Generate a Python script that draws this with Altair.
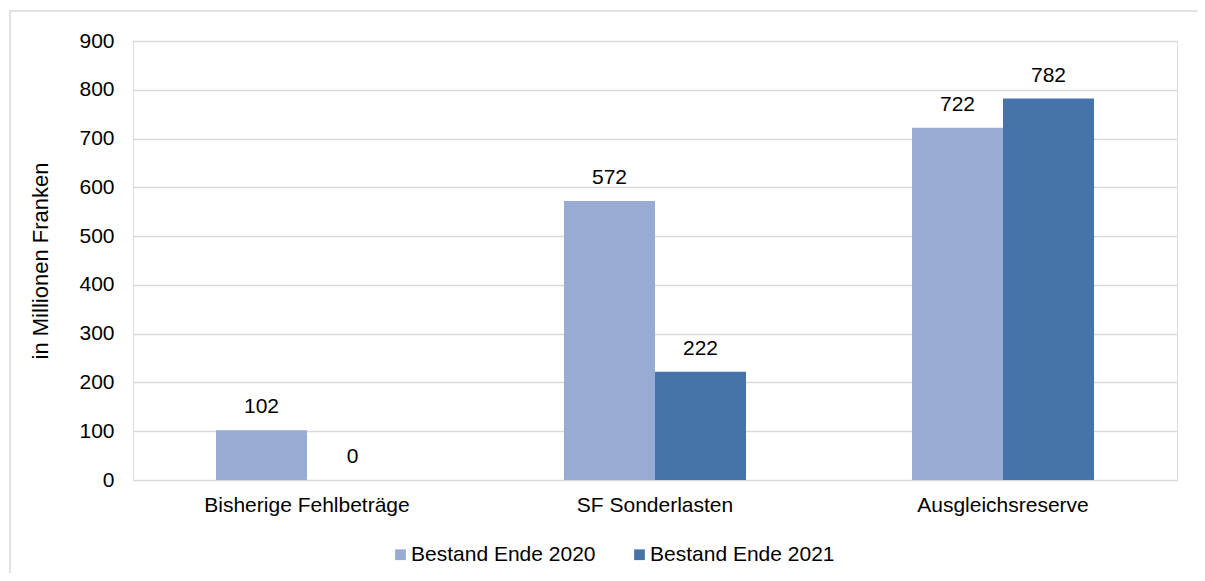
import altair as alt
import pandas as pd

categories = ["Bisherige Fehlbeträge", "SF Sonderlasten", "Ausgleichsreserve"]
series = ["Bestand Ende 2020", "Bestand Ende 2021"]
values_2020 = [102, 572, 722]
values_2021 = [0, 222, 782]
colors = ["#97ABD3", "#4673A9"]
y_ticks = [0, 100, 200, 300, 400, 500, 600, 700, 800, 900]

rows = []
for c, v in zip(categories, values_2020):
    rows.append({"cat": c, "series": series[0], "value": v})
for c, v in zip(categories, values_2021):
    rows.append({"cat": c, "series": series[1], "value": v})
df = pd.DataFrame(rows)

FONT = "Liberation Sans"
FS = 21

x = alt.X("cat:N", sort=categories,
          scale=alt.Scale(paddingInner=0, paddingOuter=0),
          axis=alt.Axis(title=None, labelAngle=0, ticks=False, domain=False, grid=False,
                        labelFontSize=FS, labelPadding=14, labelColor="black", labelFont=FONT,
                        labelLimit=0))
xo = alt.XOffset("series:N", sort=series,
                 scale=alt.Scale(paddingInner=0, paddingOuter=0.912))
y = alt.Y("value:Q", scale=alt.Scale(domain=[0, 900], nice=False),
          axis=alt.Axis(values=y_ticks, title="in Millionen Franken", ticks=False, domain=False,
                        grid=True, gridColor="#D9D9D9", gridWidth=1.5,
                        labelFontSize=FS, labelPadding=19, labelColor="black", labelFont=FONT,
                        titleFontSize=22, titleFont=FONT, titleFontWeight="normal",
                        titleColor="black", titlePadding=26))
color = alt.Color("series:N", sort=series,
                  scale=alt.Scale(domain=series, range=colors),
                  legend=alt.Legend(title=None, orient="none", direction="horizontal",
                                    legendX=257, legendY=503, symbolType="square",
                                    symbolSize=115, symbolStrokeWidth=0, labelFontSize=FS,
                                    labelFont=FONT, labelColor="black", columnPadding=33,
                                    labelOffset=0, padding=0, labelLimit=0))

base = alt.Chart(df)
bars = base.mark_bar().encode(x=x, xOffset=xo, y=y, color=color)
labels = base.mark_text(baseline="alphabetic", dy=-17, fontSize=FS, font=FONT, color="black").encode(
    x=x, xOffset=xo, y=y, text=alt.Text("value:Q"))

border = alt.Chart(pd.DataFrame({"a": [0]})).mark_rect(
    fillOpacity=0, stroke="#D9D9D9", strokeWidth=1.5).encode(
    x=alt.value(-123), x2=alt.value(1200), y=alt.value(-30), y2=alt.value(800))

chart = alt.layer(border, bars, labels).properties(
    width=1044, height=439,
    autosize=alt.AutoSizeParams(type="none"),
    padding={"left": 125, "top": 33, "right": 20, "bottom": 93},
).configure_view(stroke=None).configure(font=FONT)

chart.save("out.html", embed_options={"renderer": "svg", "actions": False})
